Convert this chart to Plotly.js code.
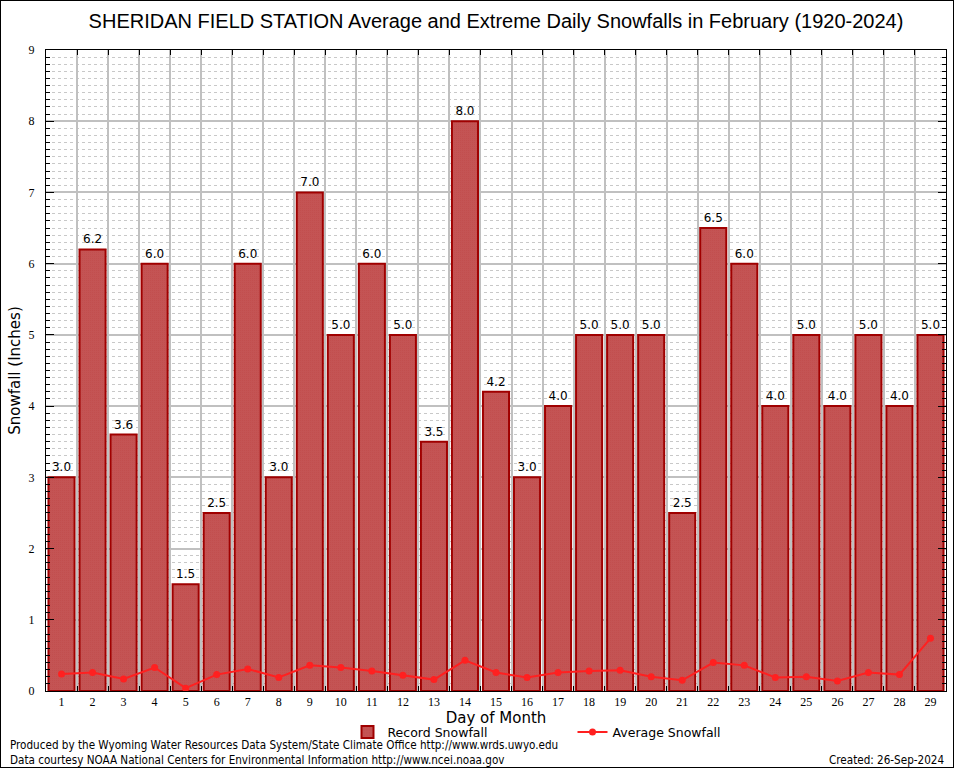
<!DOCTYPE html>
<html><head><meta charset="utf-8">
<script src="https://cdn.plot.ly/plotly-3.0.1.min.js"></script>
<style>
html,body{margin:0;padding:0;background:#fff;}
#chart{width:952px;height:766px;border:1px solid #000;}
</style></head>
<body><div id="chart"></div>
<script>
const days = [1,2,3,4,5,6,7,8,9,10,11,12,13,14,15,16,17,18,19,20,21,22,23,24,25,26,27,28,29];
const recordSnowfall = [3.0,6.2,3.6,6.0,1.5,2.5,6.0,3.0,7.0,5.0,6.0,5.0,3.5,8.0,4.2,3.0,4.0,5.0,5.0,5.0,2.5,6.5,6.0,4.0,5.0,4.0,5.0,4.0,5.0];
const averageSnowfall = [0.24,0.26,0.17,0.33,0.04,0.23,0.31,0.19,0.36,0.33,0.28,0.22,0.16,0.43,0.26,0.19,0.26,0.28,0.29,0.20,0.15,0.40,0.36,0.19,0.20,0.14,0.26,0.23,0.74];
const titleText = "SHERIDAN FIELD STATION Average and Extreme Daily Snowfalls in February (1920-2024)";

const traces = [
  {
    type:'bar', x:days, y:recordSnowfall, name:'Record Snowfall',
    width:0.84,
    marker:{color:'#ffffff', line:{color:'#a00000', width:2},
      pattern:{shape:'.', fgcolor:'#a80000', bgcolor:'#ffffff', size:2, solidity:0.64, fillmode:'replace'}},
    texttemplate:'%{y:.1f}', textposition:'outside', cliponaxis:false,
    textfont:{family:'DejaVu Sans', size:12, color:'#000'},
    hoverinfo:'x+y'
  },
  {
    type:'scatter', mode:'lines+markers', x:days, y:averageSnowfall, name:'Average Snowfall',
    line:{color:'#ff2020', width:2}, marker:{color:'#ff2020', size:7, symbol:'circle'}
  },
  {
    type:'scatter', x:[0.5,29.5], y:[0,0], xaxis:'x2', mode:'none', showlegend:false, hoverinfo:'skip'
  }
];

const layout = {
  width:952, height:766,
  margin:{l:45, r:7, t:49, b:76},
  paper_bgcolor:'#fff', plot_bgcolor:'#fff',
  title:{text:titleText, font:{family:'Liberation Sans', size:20, color:'#000'}, xref:'paper', x:0.5, xanchor:'center', y:0.974, yanchor:'middle'},
  showlegend:true,
  legend:{orientation:'h', x:0.335, xanchor:'left', y:-0.041, yanchor:'top', entrywidth:180, entrywidthmode:'pixels',
    font:{family:'DejaVu Sans', size:12.5, color:'#000'}, traceorder:'normal', tracegroupgap:0, itemwidth:30},
  bargap:0.16,
  xaxis:{range:[0.5,29.5], tickvals:days, ticktext:days.map(String), showgrid:false, zeroline:false,
    ticks:'', showline:true, linecolor:'#000', linewidth:1, mirror:true,
    tickfont:{family:'Liberation Serif', size:12, color:'#000'},
    title:{text:'Day of Month', font:{family:'DejaVu Sans', size:15, color:'#000'}, standoff:0}},
  xaxis2:{overlaying:'x', range:[0.5,29.5], tick0:0.5, dtick:1, showgrid:true, gridcolor:'#c0c0c0', gridwidth:2,
    ticks:'inside', ticklen:5, tickcolor:'#000', showticklabels:false, mirror:'ticks', side:'bottom', zeroline:false, layer:'below traces'},
  yaxis:{range:[0,9], dtick:1, showgrid:true, gridcolor:'#c0c0c0', gridwidth:2, zeroline:false,
    ticks:'inside', ticklen:8, tickcolor:'#000', showline:true, linecolor:'#000', linewidth:1, mirror:'ticks',
    tickfont:{family:'Liberation Serif', size:12, color:'#000'}, ticklabelstandoff:8,
    minor:{dtick:0.1, showgrid:true, gridcolor:'#c8c8c8', griddash:'3px,3px', gridwidth:1, ticks:'inside', ticklen:4, tickcolor:'#000'},
    title:{text:'Snowfall (Inches)', font:{family:'DejaVu Sans', size:15, color:'#000'}, standoff:4}},
  annotations:[
    {xref:'paper', yref:'paper', x:-0.042, y:-0.085, xanchor:'left', yanchor:'middle', showarrow:false,
     text:'Produced by the Wyoming Water Resources Data System/State Climate Office http://www.wrds.uwyo.edu',
     font:{family:'DejaVu Sans Condensed, DejaVu Sans', size:11.6, color:'#000'}},
    {xref:'paper', yref:'paper', x:-0.042, y:-0.107, xanchor:'left', yanchor:'middle', showarrow:false,
     text:'Data courtesy NOAA National Centers for Environmental Information http://www.ncei.noaa.gov',
     font:{family:'DejaVu Sans Condensed, DejaVu Sans', size:11.6, color:'#000'}},
    {xref:'paper', yref:'paper', x:1.0, y:-0.107, xanchor:'right', yanchor:'middle', showarrow:false,
     text:'Created: 26-Sep-2024',
     font:{family:'DejaVu Sans Condensed, DejaVu Sans', size:11.6, color:'#000'}}
  ]
};

Plotly.newPlot('chart', traces, layout, {displayModeBar:false, staticPlot:true});
</script></body></html>
